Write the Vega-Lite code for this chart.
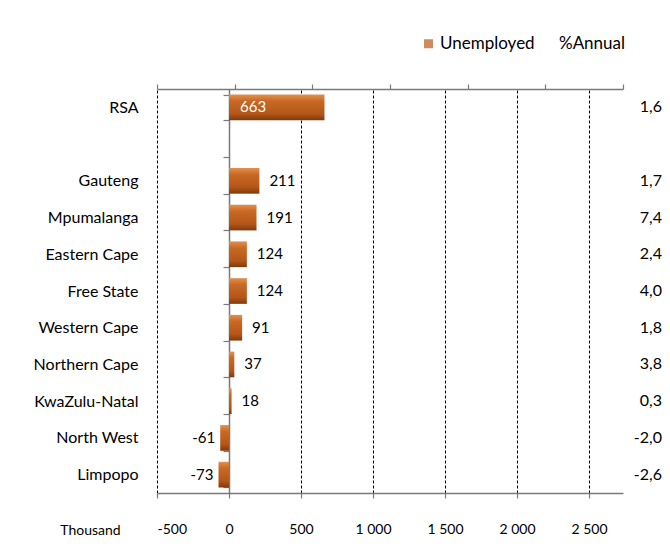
{
  "$schema": "https://vega.github.io/schema/vega-lite/v6.json",
  "width": 466,
  "height": 404,
  "autosize": "none",
  "padding": {"left": 157, "top": 89, "right": 47, "bottom": 66},
  "background": "white",
  "data": {
    "values": [
      {"region": "RSA", "value": 663, "annual": "1,6"},
      {"region": "Gauteng", "value": 211, "annual": "1,7"},
      {"region": "Mpumalanga", "value": 191, "annual": "7,4"},
      {"region": "Eastern Cape", "value": 124, "annual": "2,4"},
      {"region": "Free State", "value": 124, "annual": "4,0"},
      {"region": "Western Cape", "value": 91, "annual": "1,8"},
      {"region": "Northern Cape", "value": 37, "annual": "3,8"},
      {"region": "KwaZulu-Natal", "value": 18, "annual": "0,3"},
      {"region": "North West", "value": -61, "annual": "-2,0"},
      {"region": "Limpopo", "value": -73, "annual": "-2,6"}
    ]
  },
  "config": {
    "view": {"stroke": null},
    "font": "Lato",
    "axis": {"labelFont": "Lato", "titleFont": "Lato", "labelColor": "black", "titleColor": "black", "domain": true, "domainColor": "#7a7a7a", "domainWidth": 1.5, "domainOpacity": 1, "tickColor": "#7a7a7a", "tickWidth": 1.2, "zindex": 1},
    "text": {"font": "Lato", "fontSize": 15}
  },
  "encoding": {
    "y": {
      "field": "region",
      "type": "nominal",
      "scale": {
        "domain": ["RSA", "", "Gauteng", "Mpumalanga", "Eastern Cape", "Free State", "Western Cape", "Northern Cape", "KwaZulu-Natal", "North West", "Limpopo"],
        "paddingInner": 0.3,
        "paddingOuter": 0.15
      },
      "axis": {
        "title": null,
        "orient": "left",
        "offset": -72,
        "domain": true,
        "tickBand": "extent",
        "tickSize": 6,
        "labelPadding": 85,
        "labelFontSize": 16,
        "grid": false
      }
    }
  },
  "layer": [
    {
      "layer": [
        {
          "mark": {
            "type": "bar",
            "fill": {"gradient": "linear", "x1": 0, "y1": 0, "x2": 0, "y2": 1,
              "stops": [
                {"offset": 0, "color": "#E39050"},
                {"offset": 0.25, "color": "#C86A24"},
                {"offset": 0.75, "color": "#B5561A"},
                {"offset": 1, "color": "#7E3A0C"}
              ]}
          },
          "encoding": {
            "x": {
              "field": "value",
              "type": "quantitative",
              "scale": {"domain": [-500, 2736], "nice": false, "zero": false},
              "axis": {
                "orient": "bottom",
                "domain": true,
                "values": [-500, 0, 500, 1000, 1500, 2000, 2500],
                "labelExpr": "datum.value >= 1000 ? floor(datum.value/1000) + ' ' + (datum.value % 1000 == 0 ? '000' : '500') : toString(datum.value)",
                "labelFontSize": 14,
                "labelPadding": 31,
                "labelBaseline": "middle",
                "tickSize": 5,
                "grid": true,
                "gridColor": "black",
                "gridDash": [3, 2],
                "gridOpacity": {"condition": {"test": "datum.value === 0", "value": 0}, "value": 1},
                "title": "Thousand",
                "titleFontWeight": "normal",
                "titleFontSize": 14,
                "titleX": -67,
                "titleY": 37,
                "titleAlign": "center",
                "titleBaseline": "middle",
                "titleAngle": 0
              }
            }
          }
        },
        {
          "mark": {"type": "square", "size": 0},
          "encoding": {
            "x": {"datum": 0, "type": "quantitative"},
            "fill": {
              "datum": "Unemployed",
              "type": "nominal",
              "scale": {"domain": ["Unemployed", "%Annual"], "range": ["#B85A1C", "rgba(0,0,0,0)"]},
              "legend": {
                "title": null,
                "orient": "none",
                "legendX": 263,
                "legendY": -54,
                "direction": "horizontal",
                "symbolType": "square",
                "symbolSize": 81,
                "symbolStrokeWidth": 0,
                "labelFont": "Lato",
                "labelFontSize": 17,
                "labelColor": "black",
                "labelOffset": 3,
                "columnPadding": 4
              }
            }
          }
        },
        {
          "transform": [{"filter": "datum.value > 0 && datum.region != 'RSA'"}],
          "mark": {"type": "text", "align": "left", "baseline": "middle", "dx": 10, "color": "black"},
          "encoding": {
            "x": {"field": "value", "type": "quantitative"},
            "text": {"field": "value", "type": "nominal"}
          }
        },
        {
          "transform": [{"filter": "datum.value < 0"}],
          "mark": {"type": "text", "align": "right", "baseline": "middle", "dx": -5, "color": "black"},
          "encoding": {
            "x": {"field": "value", "type": "quantitative"},
            "text": {"field": "value", "type": "nominal"}
          }
        },
        {
          "transform": [{"filter": "datum.region == 'RSA'"}],
          "mark": {"type": "text", "align": "left", "baseline": "middle", "dx": 11, "color": "white"},
          "encoding": {
            "x": {"datum": 0, "type": "quantitative"},
            "text": {"field": "value", "type": "nominal"}
          }
        }
      ]
    },
    {
      "layer": [
        {
          "mark": {"type": "rule", "opacity": 0, "clip": true},
          "encoding": {
            "x": {
              "field": "value",
              "type": "quantitative",
              "scale": {"domain": [0, 6], "nice": false, "zero": false},
              "axis": {
                "orient": "top",
                "domain": true,
                "values": [0, 1, 2, 3, 4, 5, 6],
                "labels": false,
                "grid": false,
                "tickSize": 5,
                "title": null
              }
            }
          }
        },
        {
          "mark": {"type": "text", "align": "right", "baseline": "middle", "dx": 39, "color": "black", "fontSize": 16},
          "encoding": {
            "x": {"datum": 6, "type": "quantitative"},
            "text": {"field": "annual", "type": "nominal"}
          }
        }
      ]
    }
  ],
  "resolve": {"scale": {"x": "independent"}}
}
